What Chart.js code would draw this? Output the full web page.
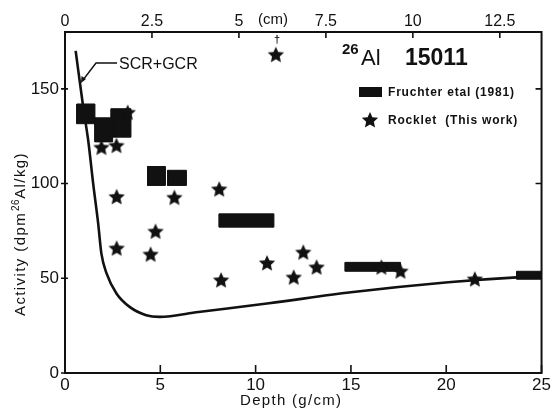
<!DOCTYPE html>
<html>
<head>
<meta charset="utf-8">
<script src="https://cdn.jsdelivr.net/npm/chart.js@4.4.1/dist/chart.umd.min.js"></script>
<style>
  html, body { margin: 0; padding: 0; background: #fff; }
</style>
</head>
<body>
<canvas id="chart" width="553" height="409"></canvas>
<script>
// tick labels
const xTicks = [0, 5, 10, 15, 20, 25];
const yTicks = [0, 50, 100, 150];
const cmTicks = [0, 2.5, 5, 7.5, 10, 12.5];

// SCR + GCR model curve
const curveX = [0.56, 0.96, 1.22, 1.48, 1.74, 1.91, 2.18, 2.7, 3.39, 4.26, 4.96, 7, 10.7, 15, 20.1, 23.7, 25];
const curveY = [170, 140, 122.6, 99.8, 79, 63, 52.6, 42, 34.9, 30.5, 29.6, 32.2, 36.8, 42.6, 47.9, 50.5, 51];

// Fruchter et al (1981): depth range x activity range
const boxX0 = [0.62, 1.57, 2.42, 4.33, 5.38, 8.09, 14.7, 23.7];
const boxX1 = [1.57, 2.5, 3.46, 5.27, 6.37, 10.96, 17.6, 25];
const boxY0 = [131.6, 122, 124.5, 99, 99, 77, 53.7, 49.5];
const boxY1 = [142, 134.7, 139.5, 109, 107, 84, 58.4, 53.7];

// Rocklet (this work)
const starX = [1.91, 2.7, 3.29, 2.71, 5.74, 8.09, 4.75, 2.71, 4.49, 8.19, 10.6, 12.0, 12.5, 13.2, 16.6, 17.6, 21.5, 11.06];
const starY = [119, 120, 137.5, 93, 92.6, 97, 74.7, 65.8, 62.6, 49, 58, 50.5, 63.7, 55.8, 55.8, 53.7, 49.5, 168];

const INK = '#111';
const FONT = '"Liberation Sans", Arial, sans-serif';

// filled five point star used as point style
function makeStar(r) {
  const c = document.createElement('canvas');
  c.width = c.height = Math.ceil(r * 2 + 2);
  const g = c.getContext('2d');
  const cx = c.width / 2, cy = c.height / 2 + 0.5;
  g.beginPath();
  for (let i = 0; i < 10; i++) {
    const rad = i % 2 ? r * 0.47 : r;
    const a = -Math.PI / 2 + i * Math.PI / 5;
    g.lineTo(cx + rad * Math.cos(a), cy + rad * Math.sin(a));
  }
  g.closePath();
  g.fillStyle = INK;
  g.fill();
  return c;
}
const starImg = makeStar(8.6);

// draw text char by char with extra spacing
function spaced(ctx, text, x, y, gap) {
  for (const ch of text) {
    ctx.fillText(ch, x, y);
    x += ctx.measureText(ch).width + gap;
  }
  return x;
}

const boxSets = boxX0.map((x0, i) => ({
  type: 'line',
  data: [
    {x: x0, y: boxY0[i]}, {x: boxX1[i], y: boxY0[i]},
    {x: boxX1[i], y: boxY1[i]}, {x: x0, y: boxY1[i]}, {x: x0, y: boxY0[i]}
  ],
  borderColor: INK,
  backgroundColor: INK,
  borderWidth: 1,
  pointRadius: 0,
  tension: 0,
  fill: 'shape'
}));

const decor = {
  id: 'decor',
  afterDraw(chart) {
    const ctx = chart.ctx;
    const a = chart.chartArea;
    const sx = chart.scales.x, sy = chart.scales.y, st = chart.scales.xTop;
    ctx.save();
    ctx.strokeStyle = INK;
    ctx.fillStyle = INK;

    // frame
    ctx.lineWidth = 2;
    ctx.strokeRect(a.left, a.top, a.right - a.left, a.bottom - a.top);

    // ticks
    ctx.lineWidth = 1.6;
    ctx.beginPath();
    xTicks.forEach(v => { const p = sx.getPixelForValue(v); ctx.moveTo(p, a.bottom); ctx.lineTo(p, a.bottom - 8); });
    cmTicks.forEach(v => { const p = st.getPixelForValue(v); ctx.moveTo(p, a.top); ctx.lineTo(p, a.top + 6); });
    yTicks.forEach(v => { const p = sy.getPixelForValue(v); ctx.moveTo(a.left - 4, p); ctx.lineTo(a.left + 3, p); });
    yTicks.slice(1).forEach(v => { const p = sy.getPixelForValue(v); ctx.moveTo(a.right, p); ctx.lineTo(a.right - 6, p); });
    ctx.stroke();

    // axis titles
    ctx.textBaseline = 'alphabetic';
    ctx.font = '15px ' + FONT;
    ctx.textAlign = 'left';
    spaced(ctx, 'Depth (g/cm)', 240, 405, 1.3);

    ctx.save();
    ctx.translate(25, 316);
    ctx.rotate(-Math.PI / 2);
    let px = spaced(ctx, 'Activity (dpm', 0, 0, 1.4);
    ctx.font = '10px ' + FONT;
    px = spaced(ctx, '26', px + 1, -6, 0.5);
    ctx.font = '15px ' + FONT;
    spaced(ctx, 'Al/kg)', px, 0, 1.4);
    ctx.restore();

    // cm unit on top axis and dagger over the star
    ctx.font = '15px ' + FONT;
    ctx.fillText('(cm)', 258, 24);
    ctx.font = 'bold 11px ' + FONT;
    ctx.textAlign = 'center';
    ctx.fillText('\u2020', 277, 43);

    // title
    ctx.textAlign = 'left';
    ctx.font = 'bold 15px ' + FONT;
    ctx.fillText('26', 342, 54);
    ctx.font = '22px ' + FONT;
    ctx.fillText('Al', 361, 65);
    ctx.font = 'bold 23px ' + FONT;
    ctx.fillText('15011', 405, 65);

    // model label with leader
    ctx.font = '16px ' + FONT;
    ctx.fillText('SCR+GCR', 119, 69);
    ctx.lineWidth = 1.4;
    ctx.beginPath();
    ctx.moveTo(117, 63);
    ctx.lineTo(96, 63);
    ctx.lineTo(83, 80);
    ctx.stroke();
    ctx.beginPath();
    ctx.moveTo(81, 83);
    ctx.lineTo(81.5, 76);
    ctx.lineTo(86, 79);
    ctx.closePath();
    ctx.fill();

    // legend
    ctx.fillRect(359, 87, 23, 10);
    ctx.drawImage(starImg, 370 - starImg.width / 2, 120 - starImg.height / 2);
    ctx.font = 'bold 12px ' + FONT;
    spaced(ctx, 'Fruchter etal (1981)', 388, 96, 0.8);
    spaced(ctx, 'Rocklet  (This work)', 388, 124, 0.8);

    ctx.restore();
  }
};

new Chart(document.getElementById('chart'), {
  type: 'scatter',
  data: {
    datasets: [
      {
        type: 'line',
        data: curveX.map((x, i) => ({x, y: curveY[i]})),
        borderColor: INK,
        borderWidth: 2.6,
        pointRadius: 0,
        cubicInterpolationMode: 'monotone',
        fill: false
      },
      {
        data: starX.map((x, i) => ({x, y: starY[i]})),
        pointStyle: starImg,
        pointRadius: 8
      },
      ...boxSets
    ]
  },
  options: {
    responsive: false,
    animation: false,
    events: [],
    layout: { padding: { left: 0, right: 9, top: 0, bottom: 0 } },
    plugins: { legend: { display: false }, tooltip: { enabled: false } },
    scales: {
      x: {
        type: 'linear', position: 'bottom', min: 0, max: 25,
        afterBuildTicks: s => { s.ticks = xTicks.map(v => ({value: v})); },
        afterFit: s => { s.height = 36; },
        grid: { display: false, drawTicks: false }, border: { display: false },
        ticks: { color: INK, padding: 2, font: { family: FONT, size: 17 }, callback: v => String(v) }
      },
      xTop: {
        type: 'linear', position: 'top', min: 0, max: 13.7,
        afterBuildTicks: s => { s.ticks = cmTicks.map(v => ({value: v})); },
        afterFit: s => { s.height = 32; },
        grid: { display: false, drawTicks: false }, border: { display: false },
        ticks: { color: INK, padding: 1, font: { family: FONT, size: 16 }, callback: v => String(v) }
      },
      y: {
        type: 'linear', position: 'left', min: 0, max: 180,
        afterBuildTicks: s => { s.ticks = yTicks.map(v => ({value: v})); },
        afterFit: s => { s.width = 65; },
        grid: { display: false, drawTicks: false }, border: { display: false },
        ticks: { color: INK, padding: 6, font: { family: FONT, size: 17 }, callback: v => String(v) }
      }
    }
  },
  plugins: [decor]
});
</script>
</body>
</html>
